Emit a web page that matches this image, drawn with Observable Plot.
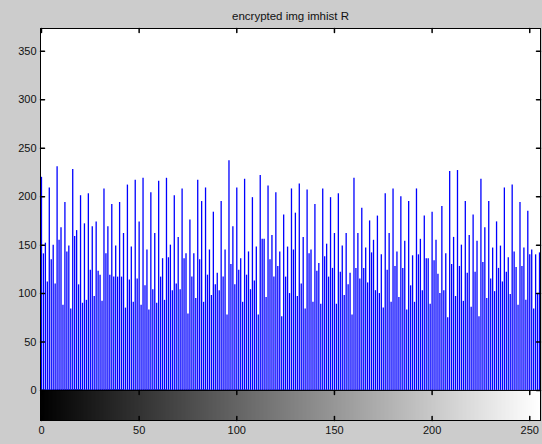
<!DOCTYPE html>
<html>
<head>
<meta charset="utf-8">
<script src="https://cdn.jsdelivr.net/npm/d3@7"></script>
<script src="https://cdn.jsdelivr.net/npm/@observablehq/plot@0.6"></script>
<style>
  html, body { margin: 0; padding: 0; background: #cccccc; overflow: hidden; }
  #chart svg { display: block; }
</style>
</head>
<body>
<div id="chart"></div>
<script>
const title = "encrypted img imhist R";
const counts = [
  220,141,152,112,209,135,150,110,231,155,168,88,194,143,149,84,228,159,165,109,201,90,172,93,203,124,169,97,174,123,119,92,208,141,169,119,192,117,149,117,194,117,162,85,212,114,148,91,217,115,174,
  88,219,108,145,83,204,104,162,90,216,117,136,93,219,137,150,103,201,110,158,104,208,136,141,79,176,117,141,95,217,135,195,91,209,119,145,98,184,109,121,103,195,117,145,78,237,130,169,109,209,124,
  136,91,218,119,143,104,199,113,148,78,222,156,156,96,211,135,160,117,204,128,143,76,181,117,148,100,208,145,183,97,213,110,158,84,207,141,145,91,192,123,131,89,208,138,151,117,199,126,162,89,203,
  122,149,98,162,109,121,78,219,126,162,115,188,126,147,111,175,142,155,103,180,100,140,85,203,124,162,91,208,128,143,96,200,126,154,83,195,108,139,91,208,140,156,103,180,136,136,89,184,134,155,120,100,
  190,103,141,75,226,130,158,97,227,128,150,92,195,121,160,86,181,122,154,76,218,132,168,95,195,115,147,102,174,126,149,112,209,122,137,99,212,143,127,88,194,128,147,93,185,140,145,84,140,100,142
];
const bins = d3.range(256);
const yTicks = [0, 50, 100, 150, 200, 250, 300, 350];
const xTicks = [0, 50, 100, 150, 200, 250];
const yTop = 373.6;      // upper y limit of histogram axes
const cbBottom = -31;    // colorbar depth in y units

const hist = bins.map((b, i) => ({bin: b, count: counts[i]}));
const tickShape = {draw(ctx, l) { ctx.moveTo(0, 0); ctx.lineTo(0, -l); }};
const font = "'Liberation Sans', Arial, Helvetica, sans-serif";

const chart = Plot.plot({
  width: 542,
  height: 444,
  marginLeft: 40,
  marginRight: 2,
  marginTop: 28,
  marginBottom: 24,
  style: {background: "#cccccc", fontFamily: font},
  x: {domain: [-0.5, 255.5], axis: null},
  y: {domain: [cbBottom, yTop], axis: null},
  marks: [
    Plot.rect([0], {x1: -0.5, x2: 255.5, y1: 0, y2: yTop, fill: "white"}),
    Plot.rect(bins, {x1: d => d - 0.5, x2: d => d + 0.5, y1: cbBottom, y2: 0,
      fill: d => `rgb(${d},${d},${d})`, shapeRendering: "crispEdges", stroke: d => `rgb(${d},${d},${d})`, strokeWidth: 0.5}),
    Plot.ruleX(hist, {x: "bin", y1: 0, y2: "count", stroke: "#0000ff", strokeWidth: 1.3}),
    Plot.ruleY([0], {stroke: "black"}),
    Plot.frame({stroke: "black"}),
    // y ticks, left and right (inward)
    Plot.vector(yTicks, {frameAnchor: "left", y: d => d, length: 4, rotate: 90, anchor: "start", shape: tickShape, stroke: "black"}),
    Plot.vector(yTicks, {frameAnchor: "right", y: d => d, length: 4, rotate: -90, anchor: "start", shape: tickShape, stroke: "black"}),
    // x ticks on top of histogram axes
    Plot.vector(xTicks, {x: d => d, frameAnchor: "top", length: 4, rotate: 180, anchor: "start", shape: tickShape, stroke: "black"}),
    // x ticks on colorbar
    Plot.vector(xTicks, {x: d => d, y: 0, length: 4, rotate: 180, anchor: "start", shape: tickShape, stroke: "black"}),
    Plot.vector(xTicks, {x: d => d, frameAnchor: "bottom", length: 4, rotate: 0, anchor: "start", shape: tickShape, stroke: "black"}),
    // labels
    Plot.text(yTicks, {frameAnchor: "left", y: d => d, text: d => String(d), textAnchor: "end", dx: -4, fontSize: 11, fill: "#111"}),
    Plot.text(xTicks, {x: d => d, frameAnchor: "bottom", text: d => String(d), dy: 13, fontSize: 11, fill: "#111"}),
    Plot.text([title], {frameAnchor: "top", text: d => d, dy: -17, fontSize: 11.5, fill: "#111"})
  ]
});
document.getElementById("chart").appendChild(chart);
</script>
</body>
</html>
